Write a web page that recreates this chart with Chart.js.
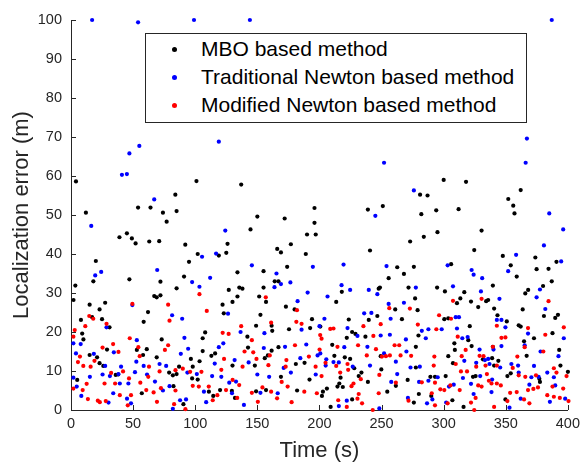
<!DOCTYPE html>
<html><head><meta charset="utf-8">
<title>Localization error</title>
<script src="https://cdn.jsdelivr.net/npm/chart.js"></script>
<style>
  body { margin: 0; background: #fff; }
  #wrap { position: relative; width: 585px; height: 464px; }
  #c { position: absolute; left: 0; top: 0; }
  .legend { position: absolute; left: 145px; top: 33px; width: 380px; height: 88px; border: 1px solid #262626; background: #fff;
            font-family: 'Liberation Sans', Arial, sans-serif; font-size: 21px; color: #000; }
  .row { position: absolute; left: 0; height: 24px; line-height: 24px; white-space: nowrap; }
  .row span.dot { position: absolute; left: 26px; top: 10px; width: 5px; height: 5px; border-radius: 50%; }
  .row span.txt { position: absolute; left: 55px; top: 0; }
</style>
</head>
<body>
<div id="wrap">
  <canvas id="c" width="585" height="464"></canvas>
  <div class="legend">
    <div class="row" style="top:3px"><span class="dot" style="background:#000"></span><span class="txt">MBO based method</span></div>
    <div class="row" style="top:31px"><span class="dot" style="background:#0000ff"></span><span class="txt">Traditional Newton based method</span></div>
    <div class="row" style="top:59px"><span class="dot" style="background:#ff0000"></span><span class="txt">Modified Newton based method</span></div>
  </div>
</div>
<script>
// --- ticks ---
const xTicks = [0, 50, 100, 150, 200, 250, 300, 350, 400];
const yTicks = [0, 10, 20, 30, 40, 50, 60, 70, 80, 90, 100];

// --- MBO based method (black) ---
const mboTime = [4,54,64,84,101,137,196,251,239,281,287,282,294,300,318,362,352,356,312,357,
  12,74,85,77,39,45,49,52,63,71,92,20,95,18,47,72,91,3.5,85,2,67,69,72,15,27.5,23,17,25,62,58.5,8,9,31,10,73,29,53,15,21,61,69,23,26,87,98,58,79,82,85,5,57,82.5,90.5,97.5,36,38,
  150,172,196,144.5,190,197,126,177,125,102,119,166,169,189,174,134,155,164,167,127,135.5,138,155,134,151.5,157,130,122,173,180,123,152.5,194,108,106,142,149,161.5,162,175.5,192.5,167,142.5,161.5,158.5,156,113,116,106,96.5,103.5,148,181,188,130,102,111,120,114.5,169,182,192,149,157,202,129.5,132,
  284,295,273,240.7,276,262.6,268,255.7,306,248.7,247.7,218,213.5,271.7,294.7,301,277,261,279,239.7,246.6,223.6,266.4,200.7,226.3,229,222,237,279.7,300.5,303.7,210.3,212,220.4,224.7,249.3,277.6,303.7,233.8,228,217,216,214.5,218.8,231.6,249.8,261.5,271,277.6,289.3,293,301.6,206,202.8,239,254.6,226.3,209,276,280,290,
  330.5,324.6,347.6,373.8,354,374.8,384.4,390.8,358.8,387,339.6,380,368,365.7,316.6,313.4,310.7,322,334.2,335.8,327.8,340.6,363.6,380.7,392,389.8,343.3,350.8,360.4,362,321,372.7,387.6,319.8,322.5,308.6,364.7,339.6,309,366.8,393,339,344,307.5,331.6,340.6,394,400,323.6,325.7,351.3,354,377,377.5,307,349.7,316];
const mboError = [58.6,51.9,51.9,55.2,58.7,57.8,51.8,52.3,51.4,55.2,55,50.2,51.2,59,58.5,56.4,54.1,52.4,51.5,50.4,
  50.6,50.6,51,48.3,44.3,45.3,44,42.7,43.2,43.3,42.4,38.2,38,33,33.5,32.9,34.2,31.9,31.2,28.2,29.2,28.9,29.4,27,27.5,25.8,23.8,23.3,25.1,22.6,23.1,19.6,21.2,18.1,18.1,15.5,15.4,14.1,13.5,15.6,13.5,12,11.3,11.1,11.1,14.1,9.6,8.9,9.2,7.7,4.3,6.1,1.5,8.1,9,9.1,
  49.6,49.1,48,46.3,45,45,42.6,42.5,40.3,40,39.6,41.3,40.4,40,36.7,35.3,35.6,33,33,30.8,31.4,31.1,31.4,29.1,29.1,27.7,27.7,27,26.5,25.8,24.8,24.4,23.3,19.9,18.4,18.8,21.6,21.6,20.3,20.7,21,16.1,16,15.2,14,13.3,13.9,14.5,15.1,13.1,12.5,11.4,11.8,12.1,11.4,7.8,4.7,5.1,3.6,8.5,5,7.8,4.8,5.1,3.6,4.9,3.1,
  44.4,45.6,43.2,40.9,36.7,36.6,34.9,33.8,37.4,31.4,31.1,30.3,27.7,31.4,31.4,30.4,28.6,25.8,25.6,23.1,24.1,23.2,23.3,21.4,20,19.5,18.5,18.8,19.1,23.3,23.5,16.7,13.9,13.5,13.1,13.8,16.2,13.8,9.6,10.7,8.3,6.8,6,5.9,8.7,10.4,6.2,7.7,10.9,8.5,8.5,8.7,5.5,4.7,7.2,4.7,2.7,0.8,1.9,4.1,3.6,
  46,41,39.5,39.1,37.1,36.1,36.2,38,34.2,33,31.9,31.8,30.8,29.9,30.2,28.6,27.4,27.8,27.9,28.2,26.4,26,25.8,24.1,24.4,23.6,24.3,22.7,21.7,21.4,21.5,18.4,19.7,17.9,16.4,17.1,17.6,16.2,15.4,13.9,15.4,13.3,12.6,12,13,11.4,11.4,9.8,8.5,8.7,8.7,9.4,8,7.2,2.5,2.7,0.8];

// --- Traditional Newton based method (blue) ---
const newtonTime = [17,54,99,144,387,55,47,41,45,67,119,252,276,245,367,366,385,
  16.3,19.5,24.3,69.4,97.5,49.4,81.4,89.5,28.6,91.3,1.9,4,7.8,18.4,53,34.5,52.6,58.5,71.3,76.6,88.4,94.3,40.3,27.5,1.9,15.2,25.4,31.3,38.2,46.2,51.5,61.2,67.6,93.7,4.6,8.3,34,39.3,45.1,48.3,30.2,82,87.8,92.6,74,79.3,
  124.2,105.5,116.8,145.6,194.7,112,103.4,165.4,169,176.6,163.8,190.5,182.4,126.4,136.5,155.7,185.6,200,122.6,119,115.7,131.7,143,155.2,172.3,189.4,198.5,184.6,101.3,113.6,121,127.4,132.8,150,159.5,171.2,177,197,107,108.8,129.6,139.2,152.5,166.4,
  219.4,254,303.2,217.8,224.7,239.7,246.6,277.6,206.5,255.7,268,236,241.8,204,257.3,222.6,282.4,287.7,298.4,230.6,249.3,256.7,269.6,285.6,220,238.6,200.7,270,205.5,211.3,215.6,252,261.5,240.7,226.8,205,262.6,280.8,273.3,257.8,280.2,287.7,295.2,215.6,248.2,222,290.9,286.6,271.2,302,
  396.2,380.7,358.3,394.6,322.5,324.1,351.9,331,307.5,377.5,330,374.8,344.9,381.8,309.7,312.3,342.8,346.5,349.7,310.7,367.9,396.7,315,319.3,346.5,365.2,328.9,340.1,378,392.4,316.6,333.2,335.8,326.2,354.5,359.9,372.7,336.9,345.5,383.4,315.5,329.4,339,360.4,370.6,376.4,388.7,322,308.1,304.3,324.1,338.5,362,389.8,397.8,385.5,353,369];
const newtonError = [100,99.4,100,100,100,67.7,65.8,60.3,60.5,54,68.8,63.4,56.3,49.8,69.6,63.4,50.4,
  47.2,34.5,35.4,35.9,32.8,26.9,24.3,23.4,21.2,18.5,17.1,14.5,16.9,14.4,17.9,14.8,12.4,11.3,11.8,11.3,14.4,15.7,11.1,11.3,8.3,8.5,9.1,8.7,9.2,6.8,9.7,9.1,7.3,9.6,6,3.6,4.3,6.8,2.9,1.7,1.9,0.3,2.5,2.7,5,6.1,
  46,39.3,40.1,37.1,36.7,33.9,31.6,35,32.3,32.7,31.5,30.1,27.9,24.7,20,19.7,20.6,21.5,17.1,16.1,11.9,12.8,12.2,15.9,16.2,16.8,14,13.3,9.2,8.7,8.5,7,7.3,9.1,8.5,10.8,9.6,9.1,4.7,2,4.3,1.3,4.4,4.3,
  37.3,36.9,37.1,32,30.8,30.8,29.7,31.4,29.1,27.2,27.5,24.8,24.9,23.4,23.4,21,20.3,20.7,20.7,19,19.1,19.3,18.1,18.4,16.1,16.2,14.5,15,13,12.3,12.2,14.5,12.4,11.4,11.1,11.4,9.2,11.1,10.9,7.2,7.2,7.5,8.4,1,0.4,2.4,2.7,1.7,3.1,1.9,
  46.3,42.2,39.8,38.1,35.9,34.7,35.6,33.8,31.7,30.9,30.4,28.9,28.5,25.9,23.8,23.8,23.1,23.1,21.2,20.9,19.6,18.4,18.4,18.7,16.4,16.6,15.5,15.5,15,13.8,12.6,12.8,13.1,12.1,11.8,11.4,11.3,11.8,10.9,9.6,8.2,8.7,7.8,9.6,8.4,8.5,8.4,6.7,6.5,6,4.1,4.6,2.9,6.3,2.9,2.1,0.6,6.5];

// --- Modified Newton based method (red) ---
const modTime = [49.4,78.2,14.7,17.9,28.6,3,11.5,1.9,47.3,79.3,33.9,25.4,38.2,78.2,75.6,54.2,7.2,18.9,5.6,9.9,15.8,41.9,55.3,62.8,71.3,84.1,90,32.3,1.9,12.6,27,35.5,46.7,55.8,62.2,72.4,9.4,13.6,21.6,23.2,28,39.3,48.3,45.7,60.6,69.2,66.5,84.1,83,92.1,98,
  103.4,109.3,156.8,161.1,181.9,181.4,185.6,137,122.1,126.9,145.6,149.3,139.7,146.7,123.2,95.9,105,160,173.4,180.3,191.5,200.6,138.1,158.9,172.8,196.9,121,130.1,102.9,110.9,124.8,135.4,145.6,154.1,161.1,169.6,174.4,187.8,197.9,114.1,117.8,133.8,150.4,165.9,177.6,
  307.5,256.2,272.8,296.3,305.9,208.7,211.3,235.4,249.3,279.2,294.1,201.7,243.4,214.5,231.1,264.2,260.5,245.5,200.1,238.1,250.3,253.5,256.7,265.3,273.8,292.5,204.9,213.5,222.6,223.1,292,201.7,216.7,233.3,248.2,261.5,225.8,227.4,282.4,293,297.3,300.5,290.4,231.6,230.6,234.3,215.1,247.7,271.7,222,242.9,293,303.2,
  330.5,384.4,342.8,396.7,367.9,381.8,346.5,349.7,311.3,339.6,365.2,317.7,380.2,328.9,359.3,314.5,332.1,309.7,333.7,342.8,326.2,355.6,388.7,313.9,318.8,334.8,360.4,365.7,374.3,390.8,398.9,305.4,312.9,327.8,330.5,336.4,338.5,342.8,346,353.5,358.8,367.9,372.2,375.9,387.6,396.2,400.5,325.7,322,364.7,369,383.4,388.7,393.5,324.6,340.6,351.3];
const modError = [27.2,27,24.1,23.4,22.1,20.5,21.5,18.8,18.4,22.9,16.9,16,14.9,16.6,15.4,16.1,13.7,12.6,12.3,11.3,11.1,9.9,13.8,11.1,9.9,10.2,10.6,9.5,5.5,6.7,6.8,6.8,8.1,7,8.5,5.6,5.1,2.8,2.4,2,2.3,3.8,3.8,1.2,5.1,2.1,4.5,5,1.5,0.2,6.2,
  29.7,25.4,28.9,22.4,25.6,22.6,22.1,21.5,19.8,19.5,17.9,13.1,15,14.8,13.1,9.8,9.8,14,12.8,16.6,13.7,19.2,11.1,11.5,11.1,11.1,10.3,7.7,6,6,5.1,6.4,4.4,5.8,4.7,7.2,6,4.7,4.3,2.5,3.8,3.1,2.1,3,2,
  28,26.1,26,24.3,23.4,20.8,20.9,21.5,22,21.9,20.7,18.3,19,16.2,16.6,16.6,16.6,15.6,15.5,14,13.7,13.8,14,14,13.9,13.7,12.1,11.3,11.8,10.3,11.4,8.7,9.6,7.9,9,7,6.1,6.8,7.1,7,5.3,5.1,4.3,4.1,2.9,1.7,2.5,4.3,2.4,0.8,0,1.2,1.7,
  28.5,27.9,21.6,21.2,21,19.3,18.5,18.6,18.8,16.2,16.1,15.4,15,13.9,13.7,13.8,13.8,11.8,11.4,11.4,11.1,10.8,10.7,9.9,9.9,9.2,8.9,8.5,8.9,9.6,8.7,6.3,5.1,6.3,6,7.5,6.8,6.8,6.3,4.4,4.6,5.1,5.4,5.8,6,5.5,2.3,3.1,1.9,2.7,1.7,3.8,3.4,3.1,0,0.8,2.3];

const axisColor = '#262626';

function pts(xs, ys) {
    return xs.map((x, i) => ({ x: x, y: ys[i] }));
}

// MATLAB style: tick marks point into the plot
const inwardTicks = {
    id: 'inwardTicks',
    afterDraw(chart) {
        const ctx = chart.ctx;
        const xs = chart.scales.x, ys = chart.scales.y;
        const a = chart.chartArea;
        ctx.save();
        ctx.strokeStyle = axisColor;
        ctx.lineWidth = 1;
        ctx.beginPath();
        xTicks.forEach(v => {
            const p = Math.round(xs.getPixelForValue(v)) + 0.5;
            ctx.moveTo(p, a.bottom); ctx.lineTo(p, a.bottom - 5);
        });
        yTicks.forEach(v => {
            const p = Math.round(ys.getPixelForValue(v)) + 0.5;
            ctx.moveTo(a.left, p); ctx.lineTo(a.left + 5, p);
        });
        ctx.stroke();
        ctx.restore();
    }
};

const dot = { pointRadius: 2.1, pointHoverRadius: 2.1, pointBorderWidth: 0, showLine: false, clip: false };

new Chart(document.getElementById('c'), {
    type: 'scatter',
    data: {
        datasets: [
            Object.assign({ label: 'MBO based method', data: pts(mboTime, mboError), backgroundColor: '#000000', order: 2 }, dot),
            Object.assign({ label: 'Traditional Newton based method', data: pts(newtonTime, newtonError), backgroundColor: '#0000ff', order: 1 }, dot),
            Object.assign({ label: 'Modified Newton based method', data: pts(modTime, modError), backgroundColor: '#ff0000', order: 0 }, dot)
        ]
    },
    options: {
        responsive: false,
        animation: false,
        layout: { padding: { top: 20, right: 15, left: 0, bottom: 0 } },
        plugins: { legend: { display: false }, tooltip: { enabled: false } },
        scales: {
            x: {
                type: 'linear', min: 0, max: 400,
                afterBuildTicks: s => { s.ticks = xTicks.map(v => ({ value: v })); },
                afterFit: s => { s.height = 54; },
                grid: { drawOnChartArea: false, drawTicks: false, color: axisColor },
                border: { display: true, color: axisColor, width: 1 },
                ticks: { color: axisColor, padding: 5, maxRotation: 0, font: { family: 'Liberation Sans', size: 14.5 } },
                title: { display: true, text: 'Time (s)', color: axisColor, padding: { top: 0, bottom: 0 }, font: { family: 'Liberation Sans', size: 22 } }
            },
            y: {
                type: 'linear', min: 0, max: 100,
                afterBuildTicks: s => { s.ticks = yTicks.map(v => ({ value: v })); },
                afterFit: s => { s.width = 71; },
                grid: { drawOnChartArea: false, drawTicks: false, color: axisColor },
                border: { display: true, color: axisColor, width: 1 },
                ticks: { color: axisColor, padding: 9, font: { family: 'Liberation Sans', size: 14.5 } },
                title: { display: true, text: 'Localization error (m)', color: axisColor, padding: { top: 9, bottom: 0 }, font: { family: 'Liberation Sans', size: 22 } }
            }
        }
    },
    plugins: [inwardTicks]
});
</script>
</body></html>
